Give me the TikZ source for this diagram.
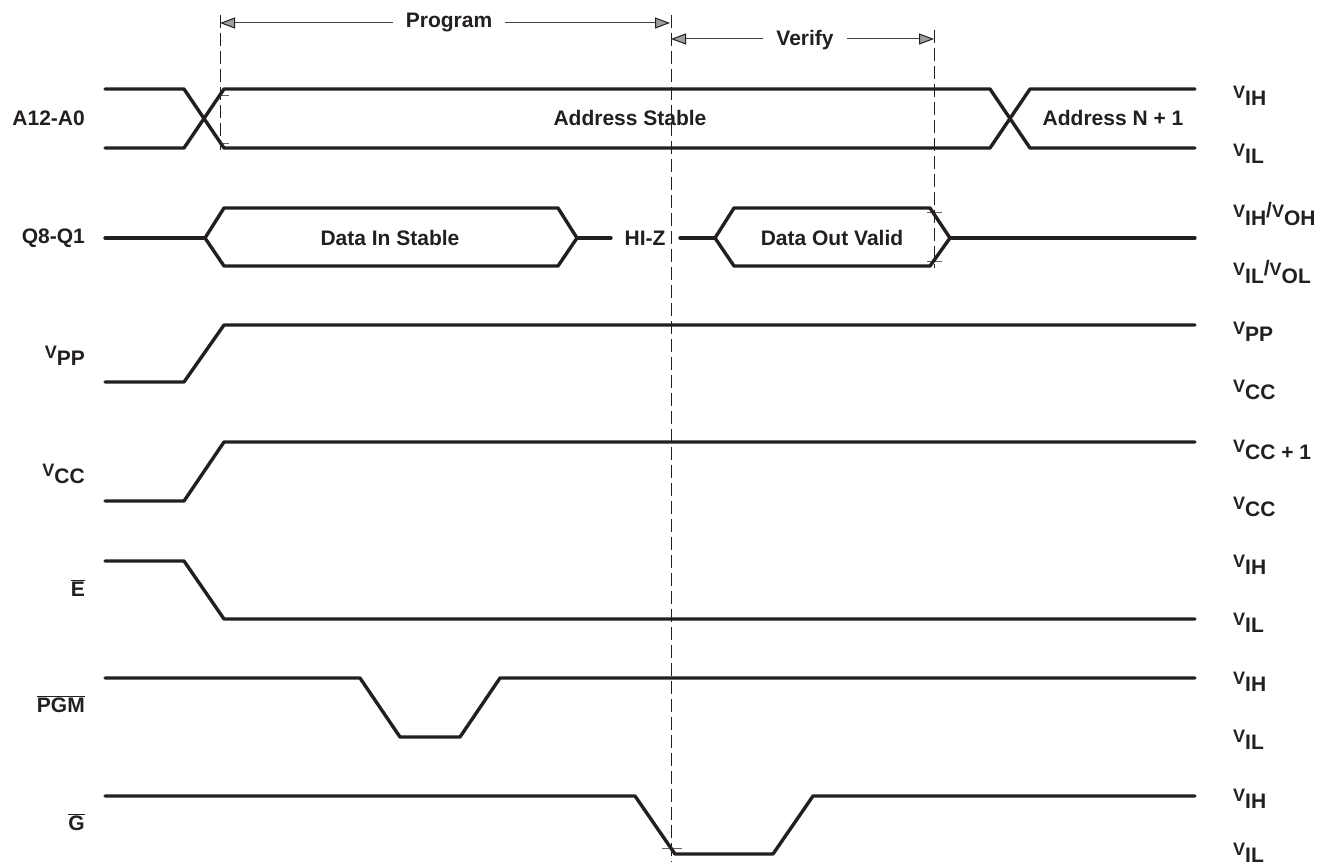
\documentclass[tikz,border=0pt]{standalone}
\usepackage{fontspec}
\setmainfont{Liberation Sans}
\usetikzlibrary{arrows.meta}
\definecolor{ink}{RGB}{35,31,32}
\newcommand{\Vsub}[1]{{\fontsize{18}{20}\selectfont V}\raisebox{-7.5pt}{#1}}
\newcommand{\ovl}[1]{$\overline{\hbox{#1}}$}
\begin{document}
\begin{tikzpicture}[x=1pt,y=-1pt,
  sig/.style={line width=3.4pt, draw=ink, line join=round, line cap=round},
  guide/.style={line width=0.9pt, draw=ink, dash pattern=on 13pt off 5pt},
  tick/.style={line width=0.7pt, draw=ink!70},
  dim/.style={line width=1pt, draw=ink!85, {Triangle[length=15pt,width=11pt,fill=gray!75,color=ink]}-{Triangle[length=15pt,width=11pt,fill=gray!75,color=ink]}},
  lbl/.style={font=\bfseries\fontsize{21}{24}\selectfont, text=ink, inner sep=0pt},
  dimlbl/.style={lbl, fill=white, inner xsep=13pt, inner ysep=2pt},
  rlbl/.style={lbl, anchor=west},
  llbl/.style={lbl, anchor=east}]
\useasboundingbox (0,0) rectangle (1325,867);

% guide lines
\coordinate (g1t) at (220,15);  \coordinate (g1b) at (220,150);
\coordinate (g2t) at (671,15);  \coordinate (g2b) at (671,862);
\coordinate (g3t) at (934,30);  \coordinate (g3b) at (934,268);
\draw[guide] (g1t) -- (g1b);
\draw[guide] (g2t) -- (g2b);
\draw[guide] (g3t) -- (g3b);

% dimension arrows
\coordinate (p1) at (220,23); \coordinate (p2) at (670,23);
\coordinate (v1) at (671,39); \coordinate (v2) at (934,39);
\draw[dim] (p1) -- (p2);
\draw[dim] (v1) -- (v2);
\node[dimlbl] (prog) at (449,23) {Program};
\node[dimlbl] (ver) at (805,40) {Verify};

% ticks
\draw[tick] (220,95) -- (229,95);
\draw[tick] (220,143) -- (229,143);
\draw[tick] (927,212) -- (942,212);
\draw[tick] (927,261) -- (942,261);
\draw[tick] (662,848) -- (682,848);

% A12-A0
\draw[sig] (105,89) -- (184,89) -- (224,148) -- (990,148) -- (1030,89) -- (1195,89);
\draw[sig] (105,148) -- (184,148) -- (224,89) -- (990,89) -- (1030,148) -- (1195,148);
\node[lbl] (as) at (630,118) {Address Stable};
\node[lbl] (an) at (1113,118) {Address N + 1};

% Q8-Q1
\draw[sig] (105,238) -- (205,238);
\draw[sig] (205,238) -- (224,208) -- (558,208) -- (577,238) -- (558,266) -- (224,266) -- cycle;
\draw[sig] (577,238) -- (611,238);
\draw[sig] (680,238) -- (715,238);
\draw[sig] (715,238) -- (734,208) -- (930,208) -- (950,238) -- (930,266) -- (734,266) -- cycle;
\draw[sig] (950,238) -- (1195,238);
\node[lbl] (din) at (390,238) {Data In Stable};
\node[lbl] (hiz) at (645,238) {HI-Z};
\node[lbl] (dout) at (832,238) {Data Out Valid};

% VPP
\draw[sig] (105,382) -- (184,382) -- (224,325) -- (1195,325);
% VCC
\draw[sig] (105,501) -- (184,501) -- (224,442) -- (1195,442);
% E
\draw[sig] (105,561) -- (184,561) -- (224,619) -- (1195,619);
% PGM
\draw[sig] (105,678) -- (360,678) -- (400,737) -- (460,737) -- (500,678) -- (1195,678);
% G
\draw[sig] (105,796) -- (635,796) -- (675,854) -- (773,854) -- (813,796) -- (1195,796);

% left labels
\node[llbl] (la) at (85,118) {A12-A0};
\node[llbl] (lq) at (85,238) {Q8-Q1};
\node[llbl] (lvpp) at (85,356) {\Vsub{PP}};
\node[llbl] (lvcc) at (85,474) {\Vsub{CC}};
\node[llbl] (le) at (85,588) {\ovl{E}};
\node[llbl] (lpgm) at (85,704) {\ovl{PGM}};
\node[llbl] (lg) at (85,822) {\ovl{G}};

% right labels
\node[rlbl] (r1) at (1233,96) {\Vsub{IH}};
\node[rlbl] (r2) at (1233,154) {\Vsub{IL}};
\node[rlbl] (r3) at (1233,214) {\Vsub{IH}/\Vsub{OH}};
\node[rlbl] (r4) at (1233,272) {\Vsub{IL}/\Vsub{OL}};
\node[rlbl] (r5) at (1233,332) {\Vsub{PP}};
\node[rlbl] (r6) at (1233,390) {\Vsub{CC}};
\node[rlbl] (r7) at (1233,450) {\Vsub{CC + 1}};
\node[rlbl] (r8) at (1233,507) {\Vsub{CC}};
\node[rlbl] (r9) at (1233,565) {\Vsub{IH}};
\node[rlbl] (r10) at (1233,623) {\Vsub{IL}};
\node[rlbl] (r11) at (1233,682) {\Vsub{IH}};
\node[rlbl] (r12) at (1233,740) {\Vsub{IL}};
\node[rlbl] (r13) at (1233,799) {\Vsub{IH}};
\node[rlbl] (r14) at (1233,853) {\Vsub{IL}};
\end{tikzpicture}
\end{document}
